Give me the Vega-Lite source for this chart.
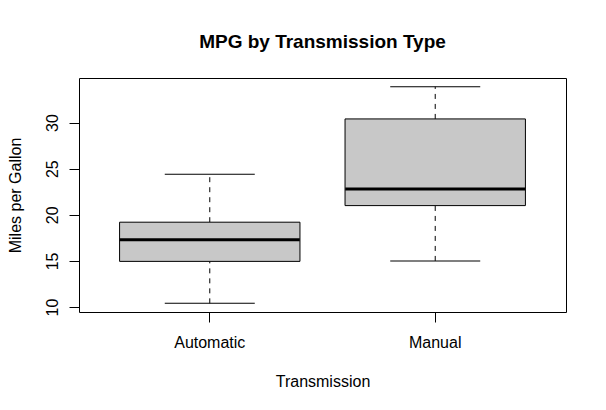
{
  "$schema": "https://vega.github.io/schema/vega-lite/v6.json",
  "width": 487,
  "height": 234,
  "autosize": {"type": "none"},
  "padding": {"left": 79, "top": 78, "right": 40, "bottom": 98},
  "background": "white",
  "title": {
    "text": "MPG by Transmission Type",
    "font": "Liberation Sans",
    "fontSize": 19,
    "fontWeight": "bold",
    "color": "black",
    "anchor": "middle",
    "frame": "group",
    "baseline": "alphabetic",
    "offset": 11
  },
  "data": {
    "values": [
      {"am": "Automatic", "min": 10.4, "q1": 14.95, "median": 17.3, "q3": 19.2, "max": 24.4},
      {"am": "Manual", "min": 15.0, "q1": 21.0, "median": 22.8, "q3": 30.4, "max": 33.9}
    ]
  },
  "encoding": {
    "x": {
      "field": "am",
      "type": "nominal",
      "scale": {"type": "band", "paddingInner": 0, "paddingOuter": 0.08},
      "axis": {
        "title": "Transmission",
        "labelAngle": 0,
        "labelBaseline": "alphabetic",
        "labelPadding": 25,
        "titleY": 74,
        "titleBaseline": "alphabetic"
      }
    }
  },
  "layer": [
    {
      "mark": {"type": "rule", "color": "black", "strokeWidth": 1, "strokeDash": [5, 5]},
      "encoding": {
        "y": {"field": "min", "type": "quantitative", "scale": {"domain": [9.46, 34.84], "nice": false, "zero": false},
          "axis": {
            "title": "Miles per Gallon",
            "values": [10, 15, 20, 25, 30],
            "labelAngle": 270,
            "labelAlign": "center",
            "labelBaseline": "alphabetic",
            "labelPadding": 11.5,
            "labelFlush": false,
            "labelOverlap": false,
            "titleX": -59,
            "titleY": 117,
            "titleAngle": 270,
            "titleAlign": "center",
            "titleBaseline": "alphabetic"
          }
        },
        "y2": {"field": "q1"}
      }
    },
    {
      "mark": {"type": "rule", "color": "black", "strokeWidth": 1, "strokeDash": [5, 5]},
      "encoding": {
        "y": {"field": "q3", "type": "quantitative"},
        "y2": {"field": "max"}
      }
    },
    {
      "mark": {"type": "tick", "color": "black", "thickness": 1, "size": 90, "opacity": 1},
      "encoding": {"y": {"field": "min", "type": "quantitative"}}
    },
    {
      "mark": {"type": "tick", "color": "black", "thickness": 1, "size": 90, "opacity": 1},
      "encoding": {"y": {"field": "max", "type": "quantitative"}}
    },
    {
      "mark": {"type": "bar", "fill": "#c8c8c8", "stroke": "black", "strokeWidth": 1, "width": {"band": 0.8}},
      "encoding": {
        "y": {"field": "q1", "type": "quantitative"},
        "y2": {"field": "q3"}
      }
    },
    {
      "mark": {"type": "tick", "color": "black", "thickness": 3, "size": 180, "opacity": 1},
      "encoding": {"y": {"field": "median", "type": "quantitative"}}
    }
  ],
  "config": {
    "view": {"stroke": "black", "strokeWidth": 1},
    "axis": {
      "grid": false,
      "domain": false,
      "ticks": true,
      "tickSize": 10,
      "tickColor": "black",
      "tickWidth": 1,
      "labelFont": "Liberation Sans",
      "labelFontSize": 16,
      "labelColor": "black",
      "titleFont": "Liberation Sans",
      "titleFontSize": 16,
      "titleFontWeight": "normal",
      "titleColor": "black"
    }
  }
}
